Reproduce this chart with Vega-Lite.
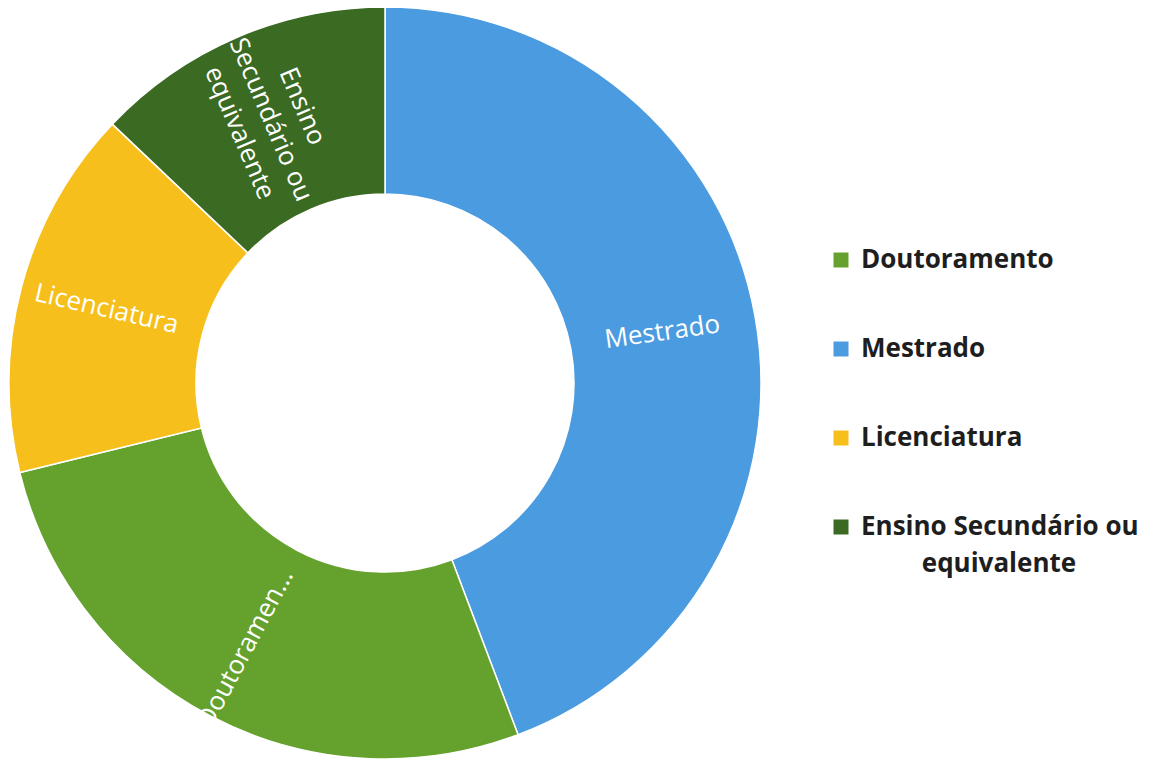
{
  "$schema": "https://vega.github.io/schema/vega-lite/v6.json",
  "width": 770,
  "height": 766,
  "padding": 0,
  "background": "white",
  "config": {"view": {"stroke": null}, "style": {"guide-label": {"lineHeight": 37}}},
  "data": {
    "values": [
      {"nivel": "Mestrado", "valor": 44.2, "ordem": 1},
      {"nivel": "Doutoramento", "valor": 26.9, "ordem": 2},
      {"nivel": "Licenciatura", "valor": 15.9, "ordem": 3},
      {"nivel": "Ensino Secundário ou equivalente", "valor": 12.9, "ordem": 4}
    ]
  },
  "encoding": {
    "theta": {"field": "valor", "type": "quantitative", "stack": true},
    "order": {"field": "ordem", "type": "quantitative", "sort": "ascending"}
  },
  "layer": [
    {
      "mark": {"type": "arc", "outerRadius": 376, "innerRadius": 189, "stroke": "white", "strokeWidth": 1.5},
      "encoding": {
        "color": {
          "field": "nivel",
          "type": "nominal",
          "scale": {
            "domain": ["Doutoramento", "Mestrado", "Licenciatura", "Ensino Secundário ou equivalente"],
            "range": ["#64a22d", "#4a9be0", "#f6bf1c", "#3b6a23"]
          },
          "legend": {
            "title": null,
            "orient": "none",
            "legendX": 828,
            "legendY": 247,
            "padding": 0,
            "symbolType": "square",
            "symbolSize": 225,
            "symbolStrokeWidth": 0,
            "labelFont": "Open Sans",
            "labelFontSize": 26,
            "labelFontWeight": "bold",
            "labelColor": "#1e1e1e",
            "labelOffset": 7,
            "labelLimit": 400,
            "rowPadding": 63,
            "labelExpr": "datum.label == 'Ensino Secundário ou equivalente' ? ['Ensino Secundário ou', '\u200b\u00a0\u00a0\u00a0\u00a0\u00a0\u00a0\u00a0\u00a0\u00a0equivalente'] : datum.label"
          }
        }
      }
    },
    {
      "mark": {"type": "text", "radius": 282, "angle": -8, "font": "Open Sans", "fontSize": 26, "fill": "white", "align": "center", "baseline": "middle"},
      "encoding": {
        "detail": {"field": "nivel", "type": "nominal"},
        "text": {"condition": {"test": "datum.nivel === 'Mestrado'", "field": "nivel"}, "value": ""}
      }
    },
    {
      "mark": {"type": "text", "radius": 300, "angle": -62, "font": "Open Sans", "fontSize": 26, "fill": "white", "align": "center", "baseline": "middle"},
      "encoding": {
        "detail": {"field": "nivel", "type": "nominal"},
        "text": {"condition": {"test": "datum.nivel === 'Doutoramento'", "value": "Doutoramen..."}, "value": ""}
      }
    },
    {
      "mark": {"type": "text", "radius": 288, "angle": 13, "font": "Open Sans", "fontSize": 26, "fill": "white", "align": "center", "baseline": "middle"},
      "encoding": {
        "detail": {"field": "nivel", "type": "nominal"},
        "text": {"condition": {"test": "datum.nivel === 'Licenciatura'", "field": "nivel"}, "value": ""}
      }
    },
    {
      "mark": {"type": "text", "radius": 287, "angle": 67, "dy": -33, "font": "Open Sans", "fontSize": 26, "lineHeight": 34, "fill": "white", "align": "center", "baseline": "middle"},
      "encoding": {
        "detail": {"field": "nivel", "type": "nominal"},
        "text": {"condition": {"test": "datum.nivel === 'Ensino Secundário ou equivalente'", "value": ["Ensino", "Secundário ou", "equivalente"]}, "value": ""}
      }
    }
  ]
}
